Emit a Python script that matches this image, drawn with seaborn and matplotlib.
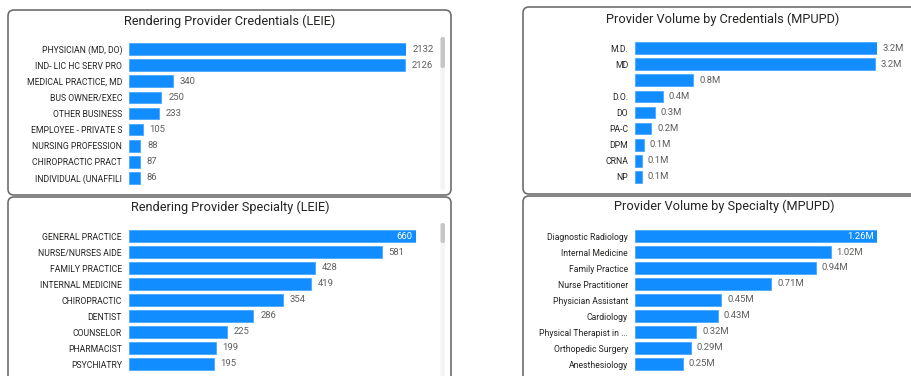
import matplotlib
matplotlib.use("Agg")
import matplotlib.pyplot as plt
import seaborn as sns
import pandas as pd
from matplotlib.patches import FancyBboxPatch

# ---------------- data ----------------
leie_cred_labels = ["PHYSICIAN (MD, DO)", "IND- LIC HC SERV PRO", "MEDICAL PRACTICE, MD",
                    "BUS OWNER/EXEC", "OTHER BUSINESS", "EMPLOYEE - PRIVATE S",
                    "NURSING PROFESSION", "CHIROPRACTIC PRACT", "INDIVIDUAL (UNAFFILI"]
leie_cred_values = [2132, 2126, 340, 250, 233, 105, 88, 87, 86]

mpupd_cred_labels = ["M.D.", "MD", "", "D.O.", "DO", "PA-C", "DPM", "CRNA", "NP"]
mpupd_cred_values = [3.24, 3.21, 0.78, 0.37, 0.27, 0.22, 0.12, 0.09, 0.09]  # millions

leie_spec_labels = ["GENERAL PRACTICE", "NURSE/NURSES AIDE", "FAMILY PRACTICE",
                    "INTERNAL MEDICINE", "CHIROPRACTIC", "DENTIST", "COUNSELOR",
                    "PHARMACIST", "PSYCHIATRY"]
leie_spec_values = [660, 581, 428, 419, 354, 286, 225, 199, 195]

mpupd_spec_labels = ["Diagnostic Radiology", "Internal Medicine", "Family Practice",
                     "Nurse Practitioner", "Physician Assistant", "Cardiology",
                     "Physical Therapist in ...", "Orthopedic Surgery", "Anesthesiology"]
mpupd_spec_values = [1.26, 1.02, 0.94, 0.71, 0.45, 0.43, 0.32, 0.29, 0.25]  # millions

titles = ["Rendering Provider Credentials (LEIE)", "Provider Volume by Credentials (MPUPD)",
          "Rendering Provider Specialty (LEIE)", "Provider Volume by Specialty (MPUPD)"]

# ---------------- style ----------------
sns.set_theme(style="white")
plt.rcParams["font.family"] = ["Roboto", "DejaVu Sans"]

W, H = 911, 376
fig = plt.figure(figsize=(W / 100, H / 100), dpi=100)
fig.patch.set_facecolor("white")

BAR = "#118DFF"
TXT = "#252423"
VAL = "#605E5C"


def px_rect(l, t, r, b):
    return [l / W, 1 - b / H, (r - l) / W, (b - t) / H]


def panel_box(l, t, r, b):
    p = FancyBboxPatch((l / W, 1 - b / H), (r - l) / W, (b - t) / H,
                       boxstyle="round,pad=0,rounding_size=%f" % (6 / W),
                       transform=fig.transFigure, facecolor="white",
                       edgecolor="#6e6e6e", linewidth=1.2, zorder=-5,
                       mutation_aspect=W / H)
    fig.patches.append(p)


def rounded_bar(x, t, b, color, z):
    p = FancyBboxPatch((x / W, 1 - b / H), 4.5 / W, (b - t) / H,
                       boxstyle="round,pad=0,rounding_size=%f" % (2 / W),
                       transform=fig.transFigure, facecolor=color,
                       edgecolor="none", zorder=z, mutation_aspect=W / H)
    fig.patches.append(p)


# panel frames
panel_box(8, 10, 451, 195)
panel_box(523, 7, 940, 194)
panel_box(8, 197, 451, 400)
panel_box(523, 196, 940, 400)
# scrollbars (track + thumb)
rounded_bar(440.5, 37, 190, "#f4f4f4", -4.5)
rounded_bar(440.5, 37, 68, "#c6c6c6", -4)
rounded_bar(440.5, 223, 380, "#f4f4f4", -4.5)
rounded_bar(440.5, 223, 243, "#c6c6c6", -4)

# titles
for txt, cx, cy in [(titles[0], 230, 21), (titles[1], 723, 19),
                    (titles[2], 230, 207), (titles[3], 724, 206)]:
    fig.text(cx / W, 1 - cy / H, txt, ha="center", va="center",
             fontsize=9.2, color=TXT)


def draw(rect, labels, values, fmt, inside_first):
    ax = fig.add_axes(px_rect(*rect))
    ax.set_zorder(2)
    df = pd.DataFrame({"label": labels, "value": values})
    sns.barplot(data=df, x="value", y="label", order=labels, orient="h",
                color=BAR, saturation=1, width=0.72, ax=ax,
                edgecolor="#4aa8ff", linewidth=0.6)
    ax.set_xlim(0, max(values))
    ax.set_ylim(len(labels) - 0.5, -0.5)
    ax.set_xlabel("")
    ax.set_ylabel("")
    ax.set_xticks([])
    for s in ax.spines.values():
        s.set_visible(False)
    ax.patch.set_alpha(0)
    ax.tick_params(axis="y", length=0, pad=5, labelsize=6.2, labelcolor=TXT)
    mx = max(values)
    for i, v in enumerate(values):
        if inside_first and i == 0:
            ax.text(v - mx * 0.012, i, fmt(v), ha="right", va="center",
                    fontsize=6.8, color="white", clip_on=False)
        else:
            ax.text(v + mx * 0.024, i, fmt(v), ha="left", va="center",
                    fontsize=6.8, color=VAL, clip_on=False)
    return ax


draw((129, 41, 406, 186), leie_cred_labels, leie_cred_values, lambda v: f"{v}", False)
draw((635, 40, 877, 185), mpupd_cred_labels, mpupd_cred_values, lambda v: f"{v:.1f}M", False)
draw((129, 228, 416, 372), leie_spec_labels, leie_spec_values, lambda v: f"{v}", True)
draw((635, 228, 877, 372), mpupd_spec_labels, mpupd_spec_values, lambda v: f"{v:.2f}M", True)

fig.savefig("out.png", dpi=100, facecolor="white")
